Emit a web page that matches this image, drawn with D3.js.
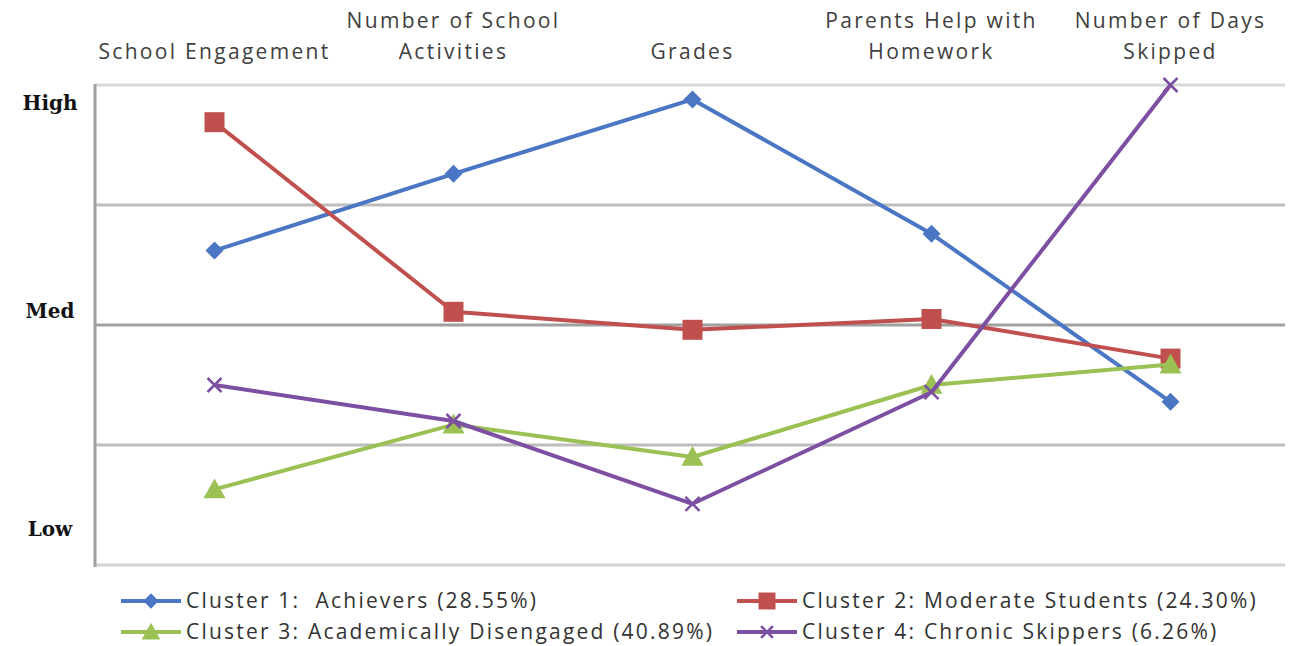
<!DOCTYPE html>
<meta charset="utf-8">
<script src="https://d3js.org/d3.v7.min.js"></script>
<style>
  body { margin: 0; background: #fff; }
  .cat { font-family: "Open Sans", Lato, sans-serif; font-size: 21px; letter-spacing: 2.3px; fill: #404040; }
  .lvl { font-family: "DejaVu Serif", "Liberation Serif", serif; font-weight: bold; font-size: 20px; fill: #111; }
  .leg { font-family: "Open Sans", Lato, sans-serif; font-size: 21px; letter-spacing: 2.2px; fill: #333; white-space: pre; }
</style>
<div id="chart"></div>
<script>
  // categories (top axis), two lines each
  var categories = ["School Engagement", "Number of School Activities", "Grades", "Parents Help with Homework", "Number of Days Skipped"];
  var categoryLines = [["School Engagement"], ["Number of School", "Activities"], ["Grades"], ["Parents Help with", "Homework"], ["Number of Days", "Skipped"]];

  // series values on a 0..4 scale (gridlines at each unit)
  var achievers   = [2.62, 3.26, 3.88, 2.76, 1.36];
  var moderate    = [3.69, 2.11, 1.96, 2.05, 1.72];
  var disengaged  = [0.63, 1.17, 0.90, 1.50, 1.67];
  var skippers    = [1.50, 1.20, 0.51, 1.44, 4.00];

  var seriesNames = ["Cluster 1:  Achievers (28.55%)", "Cluster 2: Moderate Students (24.30%)",
                     "Cluster 3: Academically Disengaged (40.89%)", "Cluster 4: Chronic Skippers (6.26%)"];

  var levelLabels = ["High", "Med", "Low"];
  var levelValues = [3.85, 2.12, 0.3];
  var gridValues = [0, 1, 2, 3, 4];

  var series = [
    {name: seriesNames[0], values: achievers,  color: "#4a76c4", marker: "diamond"},
    {name: seriesNames[1], values: moderate,   color: "#c0504d", marker: "square"},
    {name: seriesNames[2], values: disengaged, color: "#9bc155", marker: "triangle"},
    {name: seriesNames[3], values: skippers,   color: "#7d4fa3", marker: "x"}
  ];

  var W = 1291, H = 646;
  var margin = {top: 85, right: 4, bottom: 81, left: 95};
  var width = W - margin.left - margin.right,
      height = H - margin.top - margin.bottom;

  var svg = d3.select("#chart").append("svg")
      .attr("width", W).attr("height", H);
  var g = svg.append("g")
      .attr("transform", "translate(" + margin.left + "," + margin.top + ")");

  var x = d3.scaleBand().domain(categories).range([0, 1195]);
  var y = d3.scaleLinear().domain([0, 4]).range([height, 0]);
  var cx = function(i) { return x(categories[i]) + x.bandwidth() / 2; };

  // gridlines
  var gridColor = ["#d3d3d3", "#bdbdbd", "#a0a0a0", "#bdbdbd", "#d9d9d9"];
  g.selectAll(".grid").data(gridValues).enter().append("line")
      .attr("x1", 0).attr("x2", width - 2)
      .attr("y1", function(d) { return y(d); }).attr("y2", function(d) { return y(d); })
      .attr("stroke", function(d, i) { return gridColor[i]; })
      .attr("stroke-width", 3);

  // vertical axis
  g.append("line")
      .attr("x1", 0).attr("x2", 0)
      .attr("y1", y(4) - 1).attr("y2", y(0) + 2)
      .attr("stroke", "#a0a0a0").attr("stroke-width", 3);

  // level labels
  g.selectAll(".lvl").data(levelLabels).enter().append("text")
      .attr("class", "lvl")
      .attr("x", -45).attr("text-anchor", "middle")
      .attr("y", function(d, i) { return y(levelValues[i]) + 7; })
      .text(function(d) { return d; });

  // category labels on top
  categoryLines.forEach(function(lines, i) {
    var t = g.append("text").attr("class", "cat")
        .attr("text-anchor", "middle")
        .attr("x", cx(i));
    lines.forEach(function(l, j) {
      var base = lines.length === 1 ? -26 : (j === 0 ? -57 : -26);
      t.append("tspan").attr("x", cx(i)).attr("y", base).text(l);
    });
  });

  function markerPath(type, s) {
    if (type === "diamond") return "M0," + (-s) + "L" + s + ",0L0," + s + "L" + (-s) + ",0Z";
    if (type === "square") return "M" + (-s) + "," + (-s) + "h" + (2*s) + "v" + (2*s) + "h" + (-2*s) + "Z";
    if (type === "triangle") return "M0," + (-s) + "L" + s + "," + (s*0.8) + "L" + (-s) + "," + (s*0.8) + "Z";
    return "M" + (-s) + "," + (-s) + "L" + s + "," + s + "M" + s + "," + (-s) + "L" + (-s) + "," + s;
  }
  var markerSize = {diamond: 9, square: 10, triangle: 11, x: 7};

  var line = d3.line()
      .x(function(d, i) { return cx(i); })
      .y(function(d) { return y(d); });

  series.forEach(function(s) {
    g.append("path").datum(s.values)
        .attr("d", line)
        .attr("fill", "none")
        .attr("stroke", s.color)
        .attr("stroke-width", 4)
        .attr("stroke-linejoin", "round");
    g.selectAll(null).data(s.values).enter().append("path")
        .attr("transform", function(d, i) { return "translate(" + cx(i) + "," + y(d) + ")"; })
        .attr("d", markerPath(s.marker, markerSize[s.marker]))
        .attr("fill", s.marker === "x" ? "none" : s.color)
        .attr("stroke", s.color)
        .attr("stroke-width", s.marker === "x" ? 2.5 : 0);
  });

  // legend
  var legX = [121, 737], legY = [601, 632];
  series.forEach(function(s, i) {
    var lx = legX[i % 2], ly = legY[Math.floor(i / 2)];
    var lg = svg.append("g").attr("transform", "translate(" + lx + "," + ly + ")");
    lg.append("line").attr("x1", 0).attr("x2", 60).attr("y1", 0).attr("y2", 0)
        .attr("stroke", s.color).attr("stroke-width", 4);
    lg.append("path").attr("transform", "translate(30,0)")
        .attr("d", markerPath(s.marker, markerSize[s.marker] * 0.85))
        .attr("fill", s.marker === "x" ? "none" : s.color)
        .attr("stroke", s.color)
        .attr("stroke-width", s.marker === "x" ? 2.5 : 0);
    lg.append("text").attr("class", "leg")
        .attr("x", 65).attr("y", 7)
        .text(s.name);
  });
</script>
